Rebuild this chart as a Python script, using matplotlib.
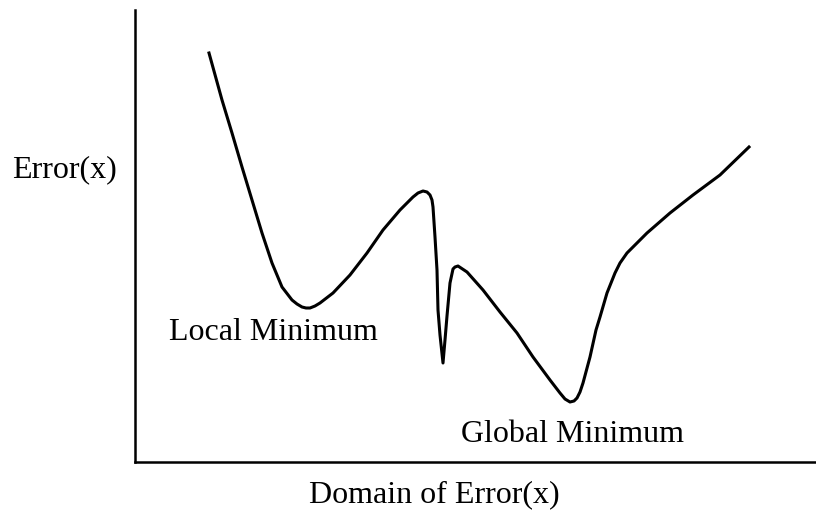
import numpy as np
import matplotlib
matplotlib.use("Agg")
import matplotlib.pyplot as plt

# points (domain position, error value)
domain = [74, 87, 97, 107, 117, 127, 137, 147, 157, 162, 167, 171, 175, 180, 185, 198,
          215, 232, 248, 265, 278, 283, 288, 292, 295, 297, 298, 300, 302, 303, 305, 308,
          310, 312, 315, 318, 320, 323, 332, 348, 365, 382, 398, 415, 425, 430, 435, 439,
          442, 445, 448, 455, 461, 465, 472, 480, 485, 492, 512, 535, 558, 585, 614]
error = [409, 362, 329, 295, 262, 229, 199, 175, 162, 158, 155, 154, 154, 156, 159, 169,
         187, 209, 232, 252, 265, 269, 271, 270, 267, 262, 255, 225, 192, 152, 127, 99,
         122, 146, 179, 193, 195, 196, 190, 172, 150, 129, 105, 82, 69, 63, 60, 61,
         64, 70, 79, 105, 132, 145, 169, 189, 199, 209, 229, 249, 267, 287, 315]

labels = {"local": "Local Minimum", "global": "Global Minimum"}

plt.rcParams['font.family'] = ['Liberation Serif', 'DejaVu Serif']

fig = plt.figure(figsize=(8.16, 5.14), dpi=100)
ax = fig.add_axes([135/816, 52/514, 681/816, 452/514])
ax.plot(domain, error, color='black', lw=2.2, solid_joinstyle='round')
ax.set_xlim(0, 681)
ax.set_ylim(0, 452)
ax.set_xticks([])
ax.set_yticks([])
for s in ['top', 'right']:
    ax.spines[s].set_visible(False)
for s in ['left', 'bottom']:
    ax.spines[s].set_linewidth(1.8)

ax.text(34, 130, labels["local"], fontsize=23, ha='left', va='center')
ax.text(326, 28, labels["global"], fontsize=23, ha='left', va='center')
fig.text(64/816, 1 - 170/514, "Error(x)", fontsize=23, ha='center', va='center')
fig.text(434/816, 1 - 495/514, "Domain of Error(x)", fontsize=23, ha='center', va='center')

fig.savefig("out.png", dpi=100)
